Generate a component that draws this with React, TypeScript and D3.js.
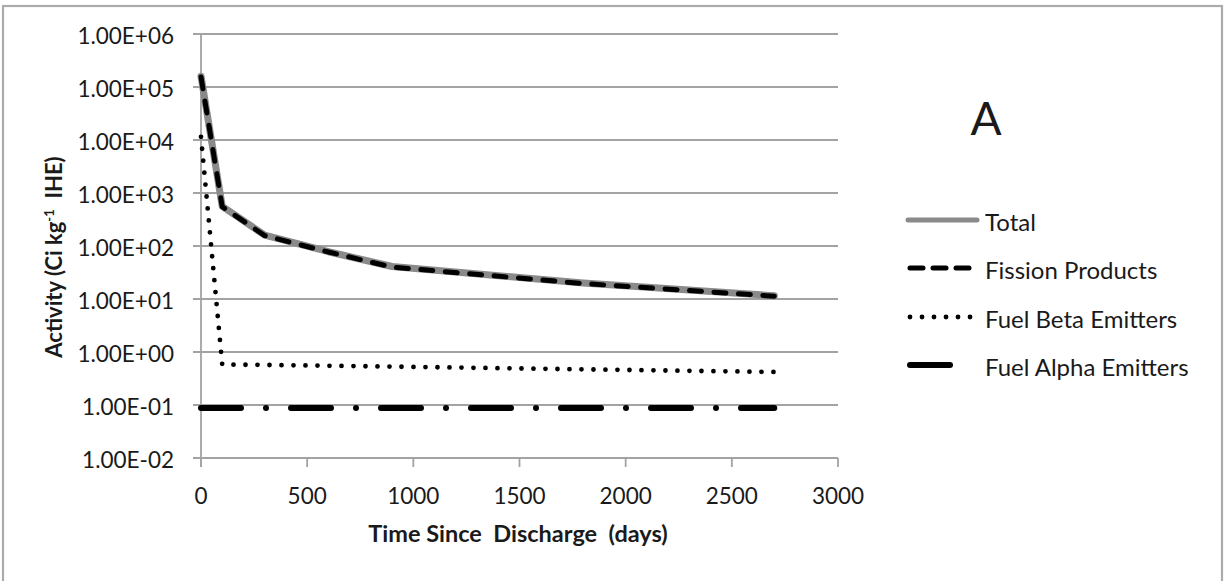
import React from "react";
import * as d3 from "d3";

const days = [0, 100, 300, 600, 900, 1800, 2700];
const total = [160000, 560, 160, 78, 41, 20, 11.5];
const fission = [155000, 550, 157, 77, 40, 19.6, 11.3];
const betaEmitters = [11500, 0.58, 0.57, 0.55, 0.53, 0.47, 0.42];
const alphaEmitters = [0.088, 0.088, 0.088, 0.088, 0.088, 0.088, 0.088];

const yTicks = [1e-2, 1e-1, 1, 10, 100, 1e3, 1e4, 1e5, 1e6];
const yTickLabels = ["1.00E-02", "1.00E-01", "1.00E+00", "1.00E+01", "1.00E+02", "1.00E+03", "1.00E+04", "1.00E+05", "1.00E+06"];
const xTicks = [0, 500, 1000, 1500, 2000, 2500, 3000];

const seriesNames = ["Total", "Fission Products", "Fuel Beta Emitters", "Fuel Alpha Emitters"];

const FONT = "Lato, 'Liberation Sans', sans-serif";
const TEXT = "#1a1a1a";
const GRID = "#a3a3a3";

const styles = [
  { stroke: "#8a8a8a", width: 7, dash: undefined as string | undefined, cap: "round" },
  { stroke: "#000", width: 5, dash: "12 12.5", cap: "round" },
  { stroke: "#000", width: 4.8, dash: "0 12", cap: "round" },
  { stroke: "#000", width: 6, dash: "40 25 0 25", cap: "round" },
];

export default function App() {
  const x = d3.scaleLinear().domain([0, 3000]).range([201, 838]);
  const y = d3.scaleLog().domain([1e-2, 1e6]).range([458, 34]);
  const line = d3
    .line<[number, number]>()
    .x((d) => x(d[0]))
    .y((d) => y(d[1]));
  const seriesData = [total, fission, betaEmitters, alphaEmitters].map((vals) =>
    days.map((d, i) => [d, vals[i]] as [number, number])
  );
  const legendY = [220, 268, 317, 365];

  return (
    <svg
      width={1225}
      height={581}
      style={{ position: "absolute", left: 0, top: 0, background: "#fff" }}
      fontFamily={FONT}
    >
      <rect x={0} y={0} width={1225} height={581} fill="#fff" />
      <rect x={3} y={6} width={1219} height={620} fill="none" stroke="#ababab" strokeWidth={2.2} />

      {/* gridlines */}
      {yTicks.map((t, i) => (
        <line key={"g" + i} x1={193} x2={x(3000)} y1={y(t)} y2={y(t)} stroke={GRID} strokeWidth={1.8} />
      ))}
      <line x1={x(0)} x2={x(0)} y1={y(1e6)} y2={y(1e-2) + 9} stroke={GRID} strokeWidth={1.8} />
      {xTicks.map((t, i) => (
        <line key={"xt" + i} x1={x(t)} x2={x(t)} y1={y(1e-2)} y2={y(1e-2) + 9} stroke={GRID} strokeWidth={1.8} />
      ))}

      {/* y tick labels */}
      {yTicks.map((t, i) => (
        <text key={"yl" + i} x={174} y={y(t) + 1.5} textAnchor="end" dominantBaseline="central" fontSize={22.5} fill={TEXT}>
          {yTickLabels[i]}
        </text>
      ))}
      {/* x tick labels */}
      {xTicks.map((t, i) => (
        <text key={"xl" + i} x={x(t)} y={495} textAnchor="middle" dominantBaseline="central" fontSize={22.5} fill={TEXT}>
          {t}
        </text>
      ))}

      {/* axis titles */}
      <text x={518} y={542} textAnchor="middle" fontSize={23.5} fontWeight="bold" fill={TEXT} style={{ whiteSpace: "pre" }}>
        {"Time Since  Discharge  (days)"}
      </text>
      <text
        transform="translate(62,257) rotate(-90)"
        textAnchor="middle"
        fontSize={22}
        fontWeight="bold"
        fill={TEXT}
        style={{ whiteSpace: "pre" }}
      >
        Activity (Ci kg
        <tspan dy={-8} fontSize={13}>-1</tspan>
        <tspan dy={8}>{"  IHE)"}</tspan>
      </text>

      {/* series */}
      {seriesData.map((d, i) => (
        <path
          key={"s" + i}
          d={line(d) || ""}
          fill="none"
          stroke={styles[i].stroke}
          strokeWidth={styles[i].width}
          strokeDasharray={styles[i].dash}
          strokeLinecap={styles[i].cap as any}
          strokeLinejoin="round"
        />
      ))}

      {/* legend */}
      {seriesNames.map((n, i) => (
        <g key={"lg" + i}>
          <line
            x1={i === 0 ? 908 : 910}
            x2={i === 0 ? 977 : 972}
            y1={legendY[i]}
            y2={legendY[i]}
            stroke={styles[i].stroke}
            strokeWidth={i === 0 ? 5 : styles[i].width}
            strokeDasharray={i === 1 ? "13 10" : styles[i].dash}
            strokeLinecap={styles[i].cap as any}
          />
          <text x={985} y={legendY[i] + 1} dominantBaseline="central" fontSize={24} fill={TEXT}>
            {n}
          </text>
        </g>
      ))}

      <text x={986} y={135} textAnchor="middle" fontSize={46} fill={TEXT}>
        A
      </text>
    </svg>
  );
}
